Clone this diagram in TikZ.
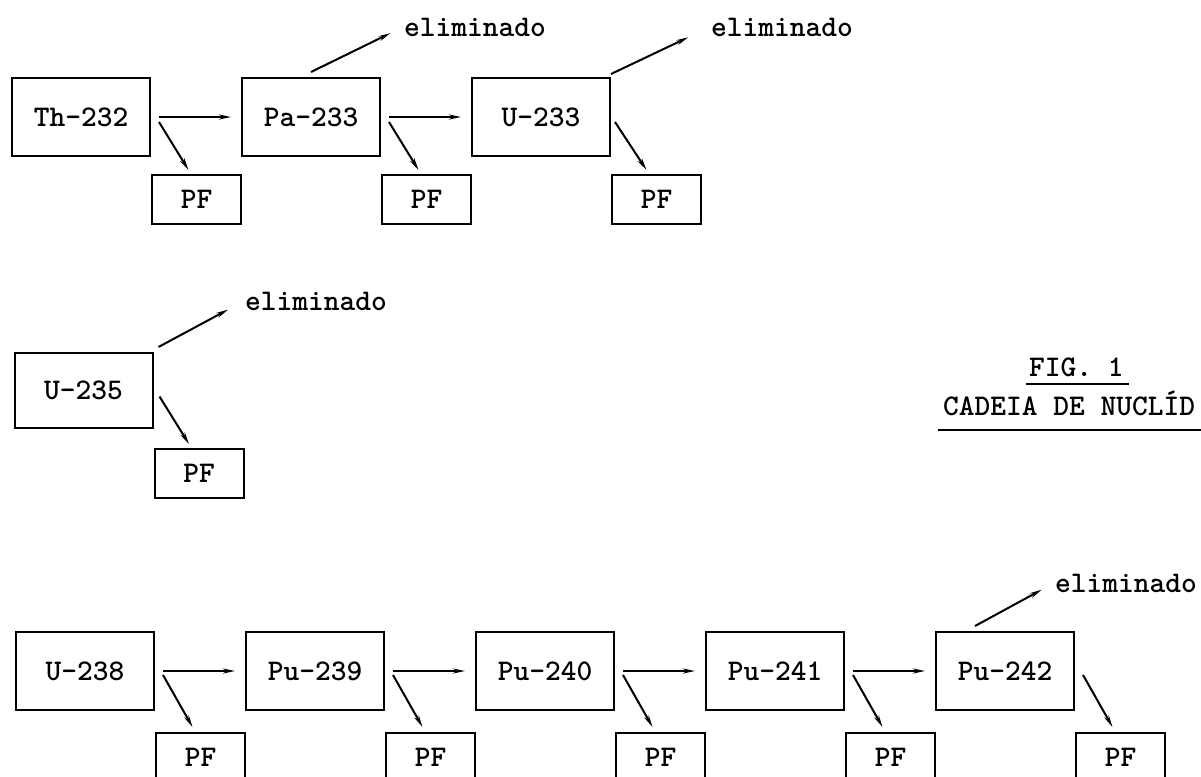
\documentclass[tikz,border=0pt]{standalone}
\usetikzlibrary{arrows.meta,positioning}

\begin{document}
\begin{tikzpicture}[
  x=1pt, y=-1pt,
  font=\ttfamily\bfseries\fontsize{30}{34}\selectfont,
  >={Stealth[length=12pt,width=5pt]},
  line width=2pt,
  node distance=90pt,
  nuc/.style={draw, minimum width=138pt, minimum height=78pt, inner sep=0pt},
  pf/.style={draw, minimum width=89pt, minimum height=49pt, inner sep=0pt},
  lbl/.style={anchor=west, inner sep=0pt},
  arrow/.style={->, shorten <=8pt, shorten >=10pt},
  decay/.style={->},
  elim/.style={->, shorten >=14pt}
]
  \useasboundingbox (0,0) rectangle (1201,776);
  \clip (0,0) rectangle (1201,776);

  % cadeia do Th-232
  \node[nuc] (th) at (81,117) {Th-232};
  \node[nuc, right=of th] (pa) {Pa-233};
  \node[nuc, right=of pa] (u233) {U-233};
  \node[pf, below right=17pt and 0pt of th.south east] (thpf) {PF};
  \node[pf, below right=17pt and 0pt of pa.south east] (papf) {PF};
  \node[pf, below right=17pt and 0pt of u233.south east] (u233pf) {PF};
  \node[lbl] (elpa) at (403,27) {eliminado};
  \node[lbl] (elu233) at (710,27) {eliminado};

  \draw[arrow] (th) -- (pa);
  \draw[arrow] (pa) -- (u233);
  \draw[decay] ([xshift=8pt,yshift=-5pt]th.east) -- ([xshift=-8pt,yshift=4pt]thpf.north);
  \draw[decay] ([xshift=8pt,yshift=-5pt]pa.east) -- ([xshift=-8pt,yshift=4pt]papf.north);
  \draw[decay] ([xshift=4pt,yshift=-5pt]u233.east) -- ([xshift=-10pt,yshift=4pt]u233pf.north);
  \draw[elim] ([yshift=5pt]pa.north) -- (elpa.west);
  \draw[elim, shorten >=24pt] ([yshift=3pt]u233.north east) -- (elu233.west);

  % U-235
  \node[nuc, minimum height=75pt] (u235) at (83.5,390.5) {U-235};
  \node[pf, below right=19pt and 0pt of u235.south east] (u235pf) {PF};
  \node[lbl] (elu235) at (244,301) {eliminado};

  \draw[decay] ([xshift=6pt,yshift=-6pt]u235.east) -- ([xshift=-10pt,yshift=4pt]u235pf.north);
  \draw[elim, shorten >=18pt] ([xshift=5pt,yshift=5pt]u235.north east) -- (elu235.west);

  % legenda
  \node[lbl, anchor=base west] (fig) at (1028,376) {FIG. 1};
  \node[lbl, anchor=base west] (cad) at (942,415) {CADEIA DE NUCLÍD};
  \draw ([xshift=-2pt,yshift=-8pt]fig.base west) -- ([xshift=4pt,yshift=-8pt]fig.base east);
  \draw ([xshift=-4pt,yshift=-15pt]cad.base west) -- ([xshift=12pt,yshift=-15pt]cad.base east);

  % cadeia do U-238
  \node[nuc] (u238) at (85,671) {U-238};
  \node[nuc, right=of u238] (pu239) {Pu-239};
  \node[nuc, right=of pu239] (pu240) {Pu-240};
  \node[nuc, right=of pu240] (pu241) {Pu-241};
  \node[nuc, right=of pu241] (pu242) {Pu-242};
  \node[pf, below right=21pt and 0pt of u238.south east] (u238pf) {PF};
  \node[pf, below right=21pt and 0pt of pu239.south east] (pu239pf) {PF};
  \node[pf, below right=21pt and 0pt of pu240.south east] (pu240pf) {PF};
  \node[pf, below right=21pt and 0pt of pu241.south east] (pu241pf) {PF};
  \node[pf, below right=21pt and 0pt of pu242.south east] (pu242pf) {PF};
  \node[lbl] (elpu242) at (1054,583) {eliminado};

  \draw[arrow] (u238) -- (pu239);
  \draw[arrow] (pu239) -- (pu240);
  \draw[arrow] (pu240) -- (pu241);
  \draw[arrow] (pu241) -- (pu242);
  \draw[decay] ([xshift=8pt,yshift=-4pt]u238.east) -- ([xshift=-8pt,yshift=5pt]u238pf.north);
  \draw[decay] ([xshift=8pt,yshift=-4pt]pu239.east) -- ([xshift=-8pt,yshift=5pt]pu239pf.north);
  \draw[decay] ([xshift=8pt,yshift=-4pt]pu240.east) -- ([xshift=-8pt,yshift=5pt]pu240pf.north);
  \draw[decay] ([xshift=8pt,yshift=-4pt]pu241.east) -- ([xshift=-8pt,yshift=5pt]pu241pf.north);
  \draw[decay] ([xshift=8pt,yshift=-4pt]pu242.east) -- ([xshift=-8pt,yshift=5pt]pu242pf.north);
  \draw[elim] ([xshift=-30pt,yshift=5pt]pu242.north) -- (elpu242.west);
\end{tikzpicture}
\end{document}
